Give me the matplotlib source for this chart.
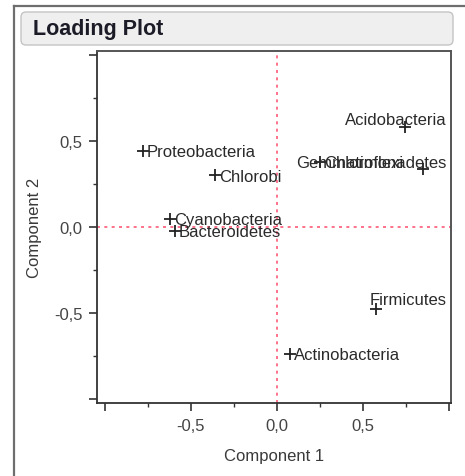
import matplotlib
matplotlib.use("Agg")
import matplotlib.pyplot as plt
from matplotlib.patches import FancyBboxPatch
from matplotlib.lines import Line2D
from matplotlib import transforms
from matplotlib.ticker import MultipleLocator

# Loadings of each phylum on the first two principal components
taxa = ["Proteobacteria", "Chlorobi", "Cyanobacteria", "Bacteroidetes",
        "Acidobacteria", "Chloroflexi", "Gemmatimonadetes", "Firmicutes",
        "Actinobacteria"]
comp1 = [-0.779, -0.360, -0.622, -0.593, 0.744, 0.250, 0.849, 0.576, 0.076]
comp2 = [0.442, 0.302, 0.047, -0.023, 0.581, 0.378, 0.337, -0.477, -0.738]

tick_values = [-1.0, -0.5, 0.0, 0.5, 1.0]
tick_labels = ["", "-0,5", "0,0", "0,5", ""]

# labels that sit against the right frame edge (shift upward in pixels)
edge_labels = {"Acidobacteria": 8, "Gemmatimonadetes": 7, "Firmicutes": 10}

plt.rcParams['font.family'] = ['Liberation Sans', 'DejaVu Sans']

W, H = 465, 477
fig = plt.figure(figsize=(W / 100, H / 100), dpi=100)
fig.patch.set_facecolor("white")


def fx(px):
    return px / W


def fy(py):
    return 1 - py / H


# window frame
fig.add_artist(Line2D([fx(14), fx(14)], [fy(7), 0], transform=fig.transFigure,
                      color="#6e6e6e", lw=1.6))
fig.add_artist(Line2D([fx(14), 1], [fy(7), fy(7)], transform=fig.transFigure,
                      color="#6e6e6e", lw=1.6))

# title bar
title_box = FancyBboxPatch((21, H - 46), 432, 33,
                           boxstyle="round,pad=0,rounding_size=5",
                           transform=None, facecolor="#efefef",
                           edgecolor="#c4c4c4", lw=1.0)
fig.add_artist(title_box)
fig.text(fx(33), fy(30), "Loading Plot", fontsize=15.5, fontweight="bold",
         color="#1c1c28", ha="left", va="center")

ax = fig.add_axes([fx(97), fy(404), fx(451) - fx(97), fy(52) - fy(404)])
ax.set_xlim(-1.0465, 1.0116)
ax.set_ylim(-1.023, 1.023)

# reference lines through the origin
ax.axhline(0, color="#ff5a78", lw=1.2, dashes=(1.8, 2.6), zorder=1)
ax.axvline(0, color="#ff5a78", lw=1.2, dashes=(1.8, 2.6), zorder=1)

ax.plot(comp1, comp2, ls="none", marker="+", ms=9, mew=1.3,
        color="#222222", zorder=3)

edge_trans = transforms.blended_transform_factory(ax.transAxes, ax.transData)
for name, x, y in zip(taxa, comp1, comp2):
    if name in edge_labels:
        tr = transforms.offset_copy(edge_trans, fig=fig, x=0,
                                    y=edge_labels[name], units="dots")
        ax.text(0.9887, y, name, transform=tr, ha="right", va="center",
                fontsize=12, color="#2a2a2a", zorder=4)
    else:
        tr = transforms.offset_copy(ax.transData, fig=fig, x=4, y=-1,
                                    units="dots")
        ax.text(x, y, name, transform=tr, ha="left", va="center",
                fontsize=12, color="#2a2a2a", zorder=4)

ax.set_xticks(tick_values)
ax.set_xticklabels(tick_labels)
ax.set_yticks(tick_values)
ax.set_yticklabels(tick_labels)
ax.xaxis.set_minor_locator(MultipleLocator(0.25))
ax.yaxis.set_minor_locator(MultipleLocator(0.25))
ax.tick_params(which="major", direction="out", length=5.5, width=1.2,
               color="#333333", labelsize=12, labelcolor="#444444", pad=5)
ax.tick_params(which="minor", direction="out", length=3, width=1.0,
               color="#333333")

for side in ("left", "bottom"):
    ax.spines[side].set_color("#333333")
    ax.spines[side].set_linewidth(1.3)
for side in ("top", "right"):
    ax.spines[side].set_color("#555555")
    ax.spines[side].set_linewidth(1.4)

ax.set_xlabel("Component 1", fontsize=12, color="#3a3a3a")
ax.set_ylabel("Component 2", fontsize=12, color="#3a3a3a")
ax.xaxis.label.set_va("center")
ax.yaxis.label.set_va("center")
ax.xaxis.set_label_coords(0.5, (404 - 457) / 352)
ax.yaxis.set_label_coords((35 - 97) / 354, 0.5)

fig.savefig("out.png", dpi=100)
